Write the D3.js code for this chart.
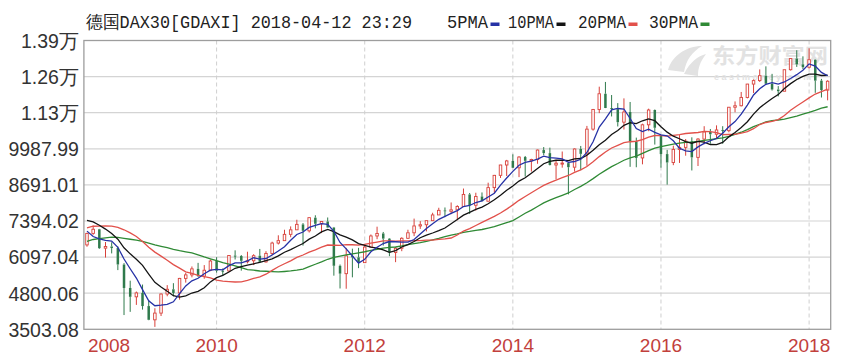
<!DOCTYPE html>
<html><head><meta charset="utf-8">
<script src="https://cdn.jsdelivr.net/npm/d3@7"></script>
<style>body{margin:0;background:#fff;} svg{display:block}</style>
</head><body><svg id="c" width="850" height="358"></svg>
<script>
// ---- data (monthly, DAX30, Apr 2008 .. Apr 2018) ----
const titleText = "德国DAX30[GDAXI] 2018-04-12 23:29";
const seriesNames = ["5PMA", "10PMA", "20PMA", "30PMA"];
const maPeriods = [5, 10, 20, 30];
const startMonth = [2008, 3]; // April 2008
// closes before the first drawn candle (Nov 2005 .. Mar 2008), used by the moving averages
const priorCloses = [5193,5408,
  5674,5797,5970,6009,5692,5683,5682,5859,6004,6269,6309,6597,
  6789,6716,6917,7409,7884,8007,7584,7638,7862,8019,7871,8067,
  6851,6748,6535];
const opens = [6535,6949,7097,6418,6479,6422,5831,4988,4670,
  4810,4338,3844,4085,4770,4941,4809,5332,5458,5675,5415,5625,
  5957,5608,5598,6154,6136,5964,5966,6148,5925,6229,6601,6688,
  6914,7077,7273,7041,7514,7294,7376,7159,5785,5502,6141,6089,
  5898,6458,6856,6947,6761,6264,6416,6772,6971,7216,7260,7406,
  7612,7776,7742,7795,7914,8349,7959,8276,8104,8594,9034,9406,
  9552,9306,9692,9556,9603,9943,9833,9407,9470,9474,9327,9981,
  9806,10694,11402,11966,11454,11414,10945,11309,10259,9660,10850,11382,
  10485,9798,9495,9966,10039,10263,9680,10337,10593,10511,10665,10640,
  11481,11535,11834,12313,12438,12615,12325,12118,12056,12829,13230,13024,
  12918,13189,12436,12097];
const highs = [6970,7231,7110,6640,6630,6480,5880,5250,4860,
  5110,4550,4260,4790,5090,5160,5350,5530,5760,5890,5810,6010,
  6095,5690,6170,6340,6170,6290,6200,6390,6310,6650,6880,7080,
  7200,7440,7320,7530,7600,7380,7520,7180,5830,6430,6400,6430,
  6520,6910,7190,7000,6780,6460,6810,7080,7480,7390,7410,7690,
  7870,7880,8060,7960,8560,8400,8410,8420,8770,9050,9410,9590,
  9790,9720,9730,9630,9960,10050,10030,9590,9890,9480,10000,10090,
  10810,11420,12220,12390,11920,11630,11800,11670,10390,10890,11430,11400,
  10485,9950,10100,10480,10340,10400,10370,10800,10700,10830,10800,11490,
  11690,12030,12320,12480,12840,12950,12680,12240,12830,13240,13530,13310,
  13600,13200,12500,12450];
const lows = [6470,6900,6390,6080,6230,5630,4015,4130,4380,
  4210,3830,3590,3980,4690,4690,4570,5180,5370,5380,5320,5590,
  5540,5430,5560,6010,5610,5870,5810,5920,5900,6170,6550,6680,
  6810,7070,6510,6980,7130,6960,7150,5430,4970,4960,5370,5700,
  5900,6450,6740,6510,6130,5915,6310,6750,6850,7110,7020,7400,
  7610,7530,7640,7420,7900,7650,7770,8100,8100,8400,8940,9010,
  9300,8970,8990,9170,9450,9760,9390,8900,9310,8350,9170,9220,
  9380,10640,11270,11450,11150,10790,10680,9340,9325,9430,10620,10140,
  9310,8700,9400,9480,9740,9210,9370,10150,10170,10360,10170,10580,
  11300,11510,11800,11990,12390,12310,12080,11870,12060,12800,12930,12850,
  12870,12000,11830,11730];
const closes = [6949,7097,6418,6479,6422,5831,4988,4670,4810,
  4338,3844,4085,4770,4941,4809,5332,5458,5675,5415,5625,5957,
  5608,5598,6154,6136,5964,5966,6148,5925,6229,6601,6688,6914,
  7077,7273,7041,7514,7294,7376,7159,5785,5502,6141,6089,5898,
  6458,6856,6947,6761,6264,6416,6772,6971,7216,7260,7406,7612,
  7776,7742,7795,7914,8349,7959,8276,8104,8594,9034,9406,9552,
  9306,9692,9556,9603,9943,9833,9407,9470,9474,9327,9981,9806,
  10694,11402,11966,11454,11414,10945,11309,10259,9660,10850,11382,10743,
  9798,9495,9966,10039,10263,9680,10337,10593,10511,10665,10640,11481,
  11535,11834,12313,12438,12615,12325,12118,12056,12829,13230,13024,12918,
  13189,12436,12097,12415];
const yTickValues = [3503.08, 4800.06, 6097.04, 7394.02, 8691.01, 9987.99, 11284.97, 12581.95, 13878.92];
const yTickLabels = ["3503.08","4800.06","6097.04","7394.02","8691.01","9987.99","1.13万","1.26万","1.39万"];
const xTickYears = [2010, 2012, 2014, 2016, 2018];
const firstYearLabel = "2008";

// ---- styles ----
const maColors = ["#2632a6", "#141414", "#e2514b", "#2f8a35"];
const upColor = "#d8403a", downColor = "#2f7a4c";
const L = 83.9, R = 830.7, T = 40.5, B = 329.3;

const svg = d3.select("#c");
const months = closes.map((_, i) => new Date(startMonth[0], startMonth[1] + i, 1));
const x = d3.scaleBand().domain(d3.range(closes.length)).range([L, R]).padding(0);
const cx = i => x(i) + x.bandwidth() / 2;
const y = d3.scaleLinear().domain([yTickValues[0], yTickValues[yTickValues.length - 1]]).range([B, T]);

// horizontal grid
svg.append("g").selectAll("line").data(yTickValues.slice(1, -1)).join("line")
  .attr("x1", L).attr("x2", R).attr("y1", d => y(d)).attr("y2", d => y(d))
  .attr("stroke", "#d4d4d4").attr("stroke-width", 1.2);

// vertical year grid (dashed), at January candles
const janIdx = xTickYears.map(yr => months.findIndex(m => m.getFullYear() === yr && m.getMonth() === 0));
svg.append("g").selectAll("line").data(janIdx).join("line")
  .attr("x1", d => cx(d)).attr("x2", d => cx(d)).attr("y1", T).attr("y2", B)
  .attr("stroke", "#cfcfcf").attr("stroke-width", 1).attr("stroke-dasharray", "4,3");

// watermark
const wm = svg.append("g").attr("fill", "#e2e2e2");
wm.append("path").attr("d", "M668,70 C672,56 686,46 702,46 C692,52 686,60 684,72 Z M684,74 C690,62 698,56 706,54 C700,62 698,68 698,76 Z");
wm.append("text").attr("x", 712).attr("y", 63).attr("font-family", "Noto Sans CJK SC").attr("font-weight", "bold")
  .attr("font-size", 21).attr("textLength", 116).attr("lengthAdjust", "spacingAndGlyphs").text("东方财富网");
wm.append("text").attr("x", 714).attr("y", 80).attr("font-family", "Liberation Sans").attr("font-weight", "bold")
  .attr("font-size", 9).attr("letter-spacing", 2.5).text("eastmoney.com");

// plot frame
svg.append("rect").attr("x", L).attr("y", T).attr("width", R - L).attr("height", B - T)
  .attr("fill", "none").attr("stroke", "#9d9d9d").attr("stroke-width", 1.3);

const plot = svg.append("g");
svg.append("clipPath").attr("id", "clip").append("rect").attr("x", L).attr("y", T).attr("width", R - L).attr("height", B - T);
plot.attr("clip-path", "url(#clip)");

// candles (up: hollow red, down: solid green)
const isUp = i => closes[i] >= opens[i];
const candles = plot.append("g").selectAll("g").data(closes.map((c, i) => i)).join("g");
candles.append("line")
  .attr("x1", i => cx(i)).attr("x2", i => cx(i))
  .attr("y1", i => y(highs[i])).attr("y2", i => y(Math.max(opens[i], closes[i])))
  .attr("stroke", i => isUp(i) ? upColor : downColor).attr("stroke-width", 1);
candles.append("line")
  .attr("x1", i => cx(i)).attr("x2", i => cx(i))
  .attr("y1", i => y(Math.min(opens[i], closes[i]))).attr("y2", i => y(lows[i]))
  .attr("stroke", i => isUp(i) ? upColor : downColor).attr("stroke-width", 1);
candles.append("rect")
  .attr("x", i => cx(i) - 1.25).attr("width", 2.5)
  .attr("y", i => y(Math.max(opens[i], closes[i])))
  .attr("height", i => Math.max(1, Math.abs(y(opens[i]) - y(closes[i]))))
  .attr("fill", i => isUp(i) ? "#fff" : downColor)
  .attr("stroke", i => isUp(i) ? upColor : "none").attr("stroke-width", 0.9);

// moving averages of the closes
const allCloses = priorCloses.concat(closes);
const off = priorCloses.length;
maPeriods.map((n, k) => ({ n, k, vals: closes.map((_, i) => d3.mean(allCloses.slice(off + i - n + 1, off + i + 1))) }))
  .reverse()
  .forEach(s => {
    plot.append("path").datum(s.vals)
      .attr("fill", "none").attr("stroke", maColors[s.k]).attr("stroke-width", 1.3)
      .attr("d", d3.line().x((d, i) => cx(i)).y(d => y(d)));
  });

// y axis
const yAxis = svg.append("g").attr("transform", `translate(${L - 5},0)`)
  .call(d3.axisLeft(y).tickValues(yTickValues).tickSize(0).tickPadding(0)
    .tickFormat((d, i) => yTickLabels[i]));
yAxis.select(".domain").remove();
yAxis.selectAll("text").attr("font-family", "Liberation Sans, Arial").attr("font-size", 19.5)
  .attr("fill", "#333").attr("dy", "0.35em");

// x axis labels (years, at January candles)
const xl = svg.append("g").attr("font-family", "Liberation Sans, Arial").attr("font-size", 19).attr("fill", "#c2403c");
xl.selectAll("text.yr").data(janIdx).join("text").attr("class", "yr")
  .attr("x", d => cx(d)).attr("y", 352).attr("text-anchor", "middle")
  .text((d, i) => String(xTickYears[i]));
xl.append("text").attr("x", L + 4).attr("y", 352).attr("text-anchor", "start").text(firstYearLabel);

// title
svg.append("text").attr("x", 86).attr("y", 28).attr("font-family", "Liberation Mono, monospace")
  .attr("font-size", 18).attr("fill", "#222").attr("textLength", 326).attr("lengthAdjust", "spacingAndGlyphs")
  .text(titleText);

// legend
const legendX = [447, 508, 578, 649];
const legendLen = [41, 46, 48, 49];
const lg = svg.append("g");
seriesNames.forEach((name, k) => {
  lg.append("text").attr("x", legendX[k]).attr("y", 28).attr("font-family", "Liberation Mono, monospace")
    .attr("font-size", 18).attr("fill", "#222").attr("textLength", legendLen[k]).attr("lengthAdjust", "spacingAndGlyphs")
    .text(name);
  lg.append("rect").attr("x", legendX[k] + legendLen[k] + 2.5).attr("y", 22.5).attr("width", 9).attr("height", 3.5)
    .attr("fill", maColors[k]);
});
</script></body></html>
